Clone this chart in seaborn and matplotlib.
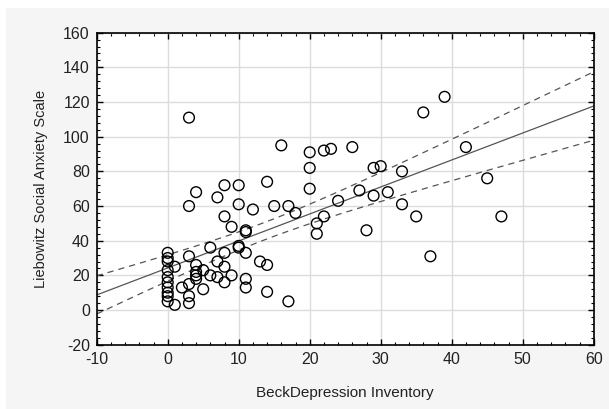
import numpy as np
import seaborn as sns
import matplotlib.pyplot as plt
from matplotlib.patches import Rectangle
from matplotlib.ticker import MultipleLocator, AutoMinorLocator

# Beck Depression Inventory scores (x) and Liebowitz Social Anxiety Scale scores (y)
bdi = [3, 16, 20, 22, 23, 20, 20, 14, 10, 8, 4, 7, 3, 10, 12, 15, 17, 18, 8, 9,
       11, 11, 10, 10, 11, 6, 8, 3, 0, 0, 0, 1, 0, 4, 5, 7, 8, 13, 14, 4,
       4, 3, 2, 0, 0, 0, 0, 0, 1, 3, 3, 5, 6, 7, 8, 9, 11, 11, 14, 17,
       21, 21, 22, 24, 26, 39, 36, 29, 30, 33, 42, 45, 47, 27, 29, 31, 33, 35, 28, 37,
       4, 0]
lsas = [111, 95, 91, 92, 93, 82, 70, 74, 72, 72, 68, 65, 60, 61, 58, 60, 60, 56, 54, 48,
        45, 46, 37, 36, 33, 36, 33, 31, 33, 30, 28, 25, 23, 26, 23, 28, 25, 28, 26, 20,
        18, 15, 13, 19, 16, 13, 10, 5, 3, 8, 4, 12, 20, 19, 16, 20, 18, 13, 10.5, 5,
        50, 44, 54, 63, 94, 123, 114, 82, 83, 80, 94, 76, 54, 69, 66, 68, 61, 54, 46, 31,
        22, 8]

x_label = "BeckDepression Inventory"
y_label = "Liebowitz Social Anxiety Scale"

sns.set_style("whitegrid")
plt.rcParams['font.family'] = ['Liberation Sans', 'DejaVu Sans']
plt.rcParams['axes.unicode_minus'] = False

fig = plt.figure(figsize=(6.09, 4.09), dpi=100)
fig.patch.set_facecolor('white')
fig.patches.append(Rectangle((6 / 609, 0), 603 / 609, 401 / 409, transform=fig.transFigure,
                             facecolor='#f5f5f5', edgecolor='none', zorder=-10))
ax = fig.add_axes([96.7 / 609, 1 - 344.7 / 409, 497 / 609, 312 / 409])
ax.set_facecolor('white')

# least-squares fit with 95% confidence band for the mean
x = np.array(bdi, dtype=float)
y = np.array(lsas, dtype=float)
n = len(x)
b1, b0 = np.polyfit(x, y, 1)
resid = y - (b0 + b1 * x)
s = np.sqrt(np.sum(resid ** 2) / (n - 2))
sxx = np.sum((x - x.mean()) ** 2)
xs = np.linspace(-10, 60, 200)
fit = b0 + b1 * xs
half = 1.985 * s * np.sqrt(1 / n + (xs - x.mean()) ** 2 / sxx)

ax.plot(xs, fit, color='#555555', lw=0.9, zorder=2)
ax.plot(xs, fit + half, color='#555555', lw=0.9, ls=(0, (5, 4)), zorder=2)
ax.plot(xs, fit - half, color='#555555', lw=0.9, ls=(0, (5, 4)), zorder=2)

sns.scatterplot(x=bdi, y=lsas, ax=ax, marker='o', s=60, facecolor='none',
                edgecolor='black', linewidth=1.0, zorder=3)

ax.set_xlim(-10, 60)
ax.set_ylim(-20, 160)
ax.xaxis.set_major_locator(MultipleLocator(10))
ax.yaxis.set_major_locator(MultipleLocator(20))
ax.xaxis.set_minor_locator(AutoMinorLocator(5))
ax.yaxis.set_minor_locator(AutoMinorLocator(5))
ax.grid(True, which='major', color='#dcdcdc', lw=1)
ax.grid(False, which='minor')
ax.tick_params(which='both', direction='in', top=True, right=True, bottom=True, left=True,
               color='black', labelsize=11.5, pad=5, labelcolor='#222222')
ax.tick_params(which='major', length=4, width=1)
ax.tick_params(which='minor', length=2.5, width=0.8)
for sp in ax.spines.values():
    sp.set_color('black')
    sp.set_linewidth(1.2)

ax.set_xlabel(x_label, fontsize=11, labelpad=14, color='#222222')
ax.set_ylabel(y_label, fontsize=10.5, labelpad=11, color='#222222')

fig.savefig('out.png', dpi=100)
